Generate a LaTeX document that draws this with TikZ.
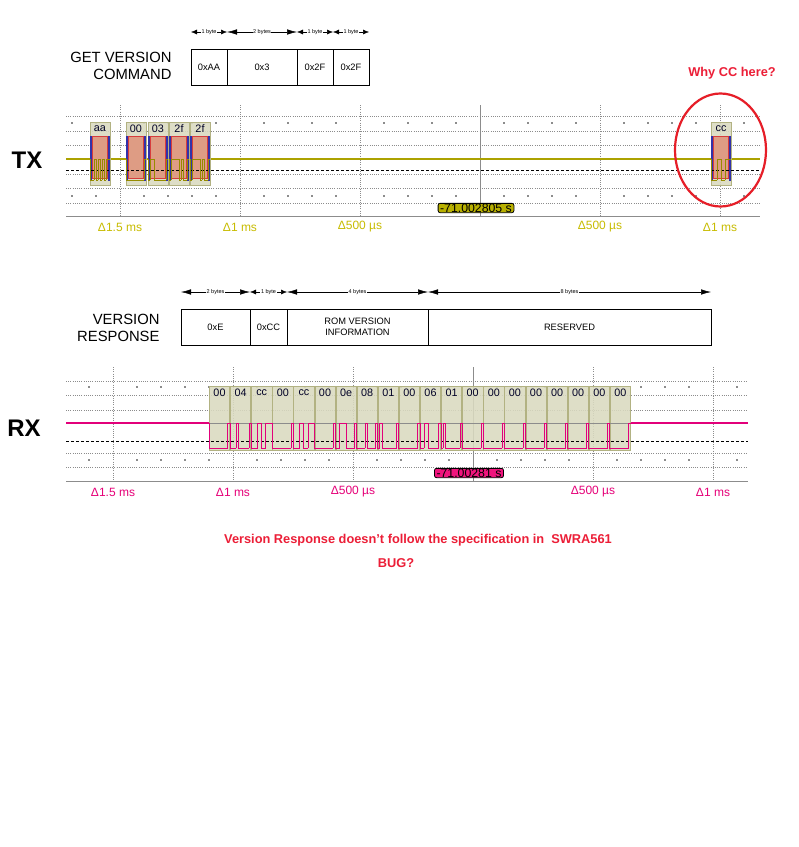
\documentclass[tikz,border=0pt]{standalone}
\usepackage{fontspec}
\setmainfont{Liberation Sans}
\usetikzlibrary{arrows.meta}
\definecolor{gridgray}{RGB}{140,140,140}
\definecolor{olivetrace}{RGB}{172,162,0}
\definecolor{olivebit}{RGB}{150,140,0}
\definecolor{olivelbl}{RGB}{200,188,0}
\definecolor{olivebox}{RGB}{184,176,0}
\definecolor{magtrace}{RGB}{226,0,122}
\definecolor{maglbl}{RGB}{230,0,120}
\definecolor{magbox}{RGB}{240,20,125}
\definecolor{tanfillc}{RGB}{218,218,192}
\definecolor{tanedgec}{RGB}{178,178,130}
\definecolor{salmonc}{RGB}{222,156,132}
\definecolor{salmonedge}{RGB}{215,60,60}
\definecolor{bluebarc}{RGB}{50,50,170}
\definecolor{alertred}{RGB}{236,30,55}
\definecolor{ellred}{RGB}{230,30,40}
\newcommand\uartframe[6]{%
  \xdef\uprev{#3}%
  \foreach \k in {0,...,9}{%
    \ifnum\k=0 \def\bitv{0}\else\ifnum\k=9 \def\bitv{1}\else
      \pgfmathtruncatemacro\bitv{mod(floor(#6/2^(\k-1)),2)}\fi\fi
    \pgfmathsetmacro\xa{#1+\k*#2}%
    \pgfmathsetmacro\xb{#1+(\k+1)*#2}%
    \ifnum\bitv=1 \def\yc{#3}\else\def\yc{#4}\fi
    \draw[#5] (\xa,\uprev) -- (\xa,\yc) -- (\xb,\yc);%
    \xdef\uprev{\yc}%
  }%
}
\begin{document}
\begin{tikzpicture}[x=1pt,y=-1pt,
  griddot/.style={gridgray,line width=0.7pt,dash pattern=on 1pt off 1.2pt},
  gridsolid/.style={gridgray,line width=0.9pt},
  thresh/.style={black,line width=0.9pt,dash pattern=on 3pt off 2pt},
  cell/.style={draw,line width=0.6pt,minimum height=36pt,inner sep=0pt,font=\fontsize{9.3}{11}\selectfont,align=center},
  dimsmall/.style={{Latex[length=6pt,width=5pt]}-{Latex[length=6pt,width=5pt]},line width=0.5pt},
  dimbig/.style={{Latex[length=10pt,width=5.5pt]}-{Latex[length=10pt,width=5.5pt]},line width=0.5pt},
  dimlbl/.style={fill=white,inner sep=0.6pt,font=\fontsize{5.5}{6}\selectfont},
  title/.style={font=\fontsize{14.8}{17.5}\selectfont,align=right,anchor=east},
  chan/.style={font=\bfseries\fontsize{24}{24}\selectfont},
  tanfill/.style={fill=tanfillc,fill opacity=0.88,draw=tanedgec,line width=0.8pt},
  bytelbl/.style={font=\fontsize{10.8}{11}\selectfont,inner sep=0pt,text=black!85!blue},
  txtrace/.style={olivetrace,line width=1.6pt},
  txbits/.style={olivebit,line width=0.75pt},
  rxtrace/.style={magtrace,line width=1.3pt},
  rxbits/.style={magtrace,line width=1pt},
  txdelta/.style={text=olivelbl,font=\fontsize{12}{13}\selectfont},
  rxdelta/.style={text=maglbl,font=\fontsize{12}{13}\selectfont},
  cursorlbl/.style={draw=black,line width=0.8pt,rounded corners=2pt,inner xsep=2pt,inner ysep=0.3pt,font=\fontsize{12.3}{12}\selectfont},
  alert/.style={text=alertred,font=\bfseries\fontsize{12.8}{14}\selectfont}]
\useasboundingbox (0,0) rectangle (799,847);
\fill[white] (0,0) rectangle (799,847);

% ---------- GET VERSION COMMAND ----------
\node[title] (gvc) at (175,66) {GET VERSION\\COMMAND};
\node[cell,minimum width=36pt] (c1) at (209,67) {0xAA};
\node[cell,minimum width=70pt] (c2) at (262,67) {0x3};
\node[cell,minimum width=36pt] (c3) at (315,67) {0x2F};
\node[cell,minimum width=36pt] (c4) at (351,67) {0x2F};
\draw[dimsmall] (191,32) -- (227,32) node[midway,dimlbl] (d1) {1 byte};
\draw[dimbig] (227,32) -- (297,32) node[midway,dimlbl] (d2) {2 bytes};
\draw[dimsmall] (297,32) -- (333,32) node[midway,dimlbl] (d3) {1 byte};
\draw[dimsmall] (333,32) -- (369,32) node[midway,dimlbl] (d4) {1 byte};

% ---------- TX scope ----------
\node[chan] (tx) at (27,160) {TX};
\foreach \y in {116,131,145.5,174,188.5,203} \draw[griddot] (66,\y) -- (760,\y);
\foreach \x in {120,240,360,600,720} \draw[griddot] (\x,105) -- (\x,216);
\draw[gridsolid] (480,105) -- (480,216);
\draw[gridsolid] (66,216) -- (760,216);
\foreach \k in {0,...,28}{%
  \pgfmathtruncatemacro\m{mod(\k,5)}%
  \ifnum\m=2 \else
    \fill[gridgray] ({72+24*\k-0.6},122.4) rectangle ++(1.2,1.2);
    \fill[gridgray] ({72+24*\k-0.6},195.4) rectangle ++(1.2,1.2);
  \fi}
\draw[txtrace] (66,159) -- (760,159);
\foreach \lab/\val/\bx [count=\i] in {aa/170/90,00/0/126,03/3/148,2f/47/169,2f/47/190,cc/204/711}{%
  \draw[tanfill] (\bx,122) rectangle (\bx+20,185);
  \fill[salmonc] (\bx+2,136) rectangle (\bx+18,178);
  \draw[salmonedge,line width=0.6pt] (\bx+2.3,136) rectangle (\bx+17.7,178);
  \fill[bluebarc] (\bx,136) rectangle (\bx+2.3,181);
  \fill[bluebarc] (\bx+17.7,136) rectangle (\bx+20,181);
  \node[bytelbl] (txb\i) at (\bx+10,129) {\lab};
}
\draw[thresh] (66,170) -- (760,170);
\foreach \val/\bx in {170/90,0/126,3/148,47/169,47/190,204/711}{%
  \uartframe{\bx}{2}{159}{180}{txbits}{\val}}
\node[cursorlbl,fill=olivebox] (txcur) at (476,208) {-71.002805 s};
\node[txdelta] (t1) at (120,227) {Δ1.5 ms};
\node[txdelta] (t2) at (240,227) {Δ1 ms};
\node[txdelta] (t3) at (360,227) {Δ500 µs};
\node[txdelta] (t4) at (600,227) {Δ500 µs};
\node[txdelta] (t5) at (720,227) {Δ1 ms};
\draw[ellred,line width=2.2pt] (720.5,150) ellipse [x radius=45.5pt, y radius=56.5pt];
\node[alert] (why) at (732,73) {Why CC here?};

% ---------- VERSION RESPONSE ----------
\node[title] (vr) at (163,328) {VERSION\\RESPONSE};
\node[cell,minimum width=69pt] (r1) at (215.5,327) {0xE};
\node[cell,minimum width=37pt] (r2) at (268.5,327) {0xCC};
\node[cell,minimum width=141pt] (r3) at (357.5,327) {ROM VERSION\\INFORMATION};
\node[cell,minimum width=283pt] (r4) at (569.5,327) {RESERVED};
\draw[dimbig] (181,292) -- (250,292) node[midway,dimlbl] (e1) {2 bytes};
\draw[dimsmall] (250,292) -- (287,292) node[midway,dimlbl] (e2) {1 byte};
\draw[dimbig] (287,292) -- (428,292) node[midway,dimlbl] (e3) {4 bytes};
\draw[dimbig] (428,292) -- (711,292) node[midway,dimlbl] (e4) {8 bytes};

% ---------- RX scope ----------
\node[chan] (rx) at (24,428) {RX};
\foreach \y in {381,395.5,410,453,467.5} \draw[griddot] (66,\y) -- (748,\y);
\foreach \x in {113,233,353,593,713} \draw[griddot] (\x,367) -- (\x,481.5);
\draw[gridsolid] (473,367) -- (473,481.5);
\draw[gridsolid] (66,481.5) -- (748,481.5);
\foreach \k in {1,...,28}{%
  \pgfmathtruncatemacro\m{mod(\k,5)}%
  \ifnum\m=2 \else
    \fill[gridgray] ({65+24*\k-0.6},386.4) rectangle ++(1.2,1.2);
    \fill[gridgray] ({65+24*\k-0.6},459.4) rectangle ++(1.2,1.2);
  \fi}
\foreach \lab [count=\i from 0] in {00,04,cc,00,cc,00,0e,08,01,00,06,01,00,00,00,00,00,00,00,00}{%
  \pgfmathsetmacro\bx{209+\i*21.1}
  \draw[tanfill] (\bx+0.4,386) rectangle (\bx+20.7,450);
  \node[bytelbl] (rxb\i) at (\bx+10.5,393) {\lab};
}
\draw[gridsolid] (66,423) -- (748,423);
\draw[thresh] (66,441) -- (748,441);
\draw[rxtrace] (66,423) -- (209,423);
\draw[rxtrace] (631,423) -- (748,423);
\foreach \val [count=\i from 0] in {0,4,204,0,204,0,14,8,1,0,6,1,0,0,0,0,0,0,0,0}{%
  \pgfmathsetmacro\bx{209+\i*21.1}
  \uartframe{\bx}{2.11}{423}{448}{rxbits}{\val}}
\node[cursorlbl,fill=magbox] (rxcur) at (469,473) {-71.00281 s};
\node[rxdelta] (s1) at (113,492) {Δ1.5 ms};
\node[rxdelta] (s2) at (233,492) {Δ1 ms};
\node[rxdelta] (s3) at (353,492) {Δ500 µs};
\node[rxdelta] (s4) at (593,492) {Δ500 µs};
\node[rxdelta] (s5) at (713,492) {Δ1 ms};

% ---------- notes ----------
\node[alert] (note) at (418,540) {Version Response doesn't follow the specification in\ \ SWRA561};
\node[alert] (bug) at (396,563) {BUG?};
\end{tikzpicture}
\end{document}
